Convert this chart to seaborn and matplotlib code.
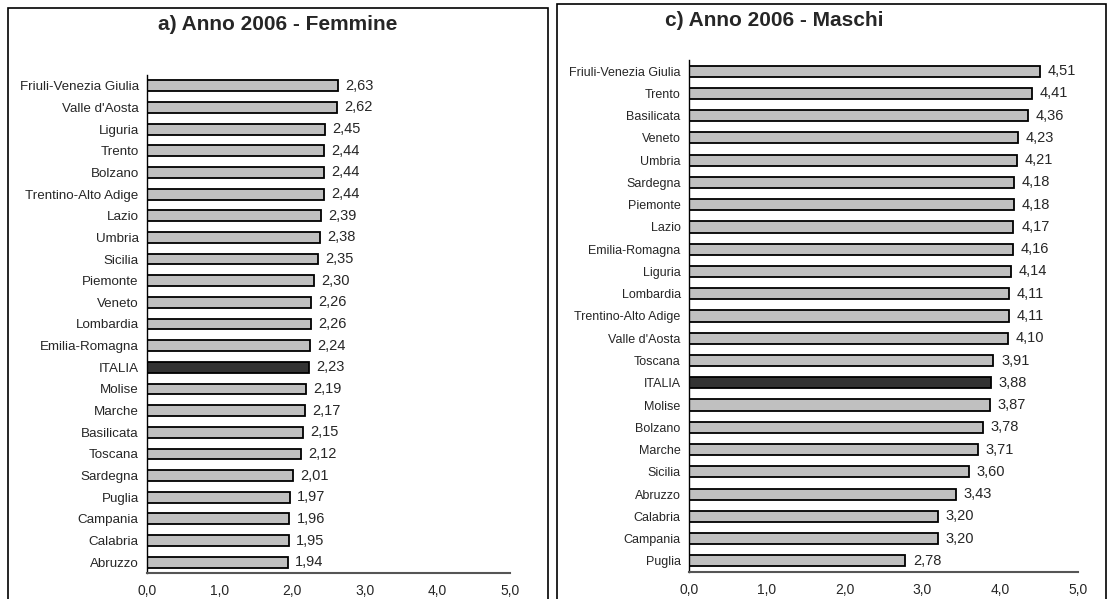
import matplotlib
matplotlib.use("Agg")
import matplotlib.pyplot as plt
import seaborn as sns
import numpy as np
from matplotlib.patches import Rectangle

sns.set_style("white")
plt.rcParams['font.family'] = ['Liberation Sans', 'DejaVu Sans']

fem_regions = ["Friuli-Venezia Giulia", "Valle d'Aosta", "Liguria", "Trento", "Bolzano",
               "Trentino-Alto Adige", "Lazio", "Umbria", "Sicilia", "Piemonte", "Veneto",
               "Lombardia", "Emilia-Romagna", "ITALIA", "Molise", "Marche", "Basilicata",
               "Toscana", "Sardegna", "Puglia", "Campania", "Calabria", "Abruzzo"]
fem_values = [2.63, 2.62, 2.45, 2.44, 2.44, 2.44, 2.39, 2.38, 2.35, 2.30, 2.26, 2.26, 2.24,
              2.23, 2.19, 2.17, 2.15, 2.12, 2.01, 1.97, 1.96, 1.95, 1.94]

mas_regions = ["Friuli-Venezia Giulia", "Trento", "Basilicata", "Veneto", "Umbria", "Sardegna",
               "Piemonte", "Lazio", "Emilia-Romagna", "Liguria", "Lombardia",
               "Trentino-Alto Adige", "Valle d'Aosta", "Toscana", "ITALIA", "Molise",
               "Bolzano", "Marche", "Sicilia", "Abruzzo", "Calabria", "Campania", "Puglia"]
mas_values = [4.51, 4.41, 4.36, 4.23, 4.21, 4.18, 4.18, 4.17, 4.16, 4.14, 4.11, 4.11, 4.10,
              3.91, 3.88, 3.87, 3.78, 3.71, 3.60, 3.43, 3.20, 3.20, 2.78]

titles = ["a) Anno 2006 - Femmine", "c) Anno 2006 - Maschi"]
xticks = [0, 1, 2, 3, 4, 5]
xticklabels = ["0,0", "1,0", "2,0", "3,0", "4,0", "5,0"]

W, H = 1114, 599
fig = plt.figure(figsize=(W / 100, H / 100), dpi=100)

def fx(px):
    return px / W

def fy(py):
    return 1 - py / H

panels = [
    dict(regions=fem_regions, values=fem_values, title=titles[0],
         ax=(147, 75, 510, 573), box=(8, 8, 548), title_xy=(278, 25), lab_fs=9.6),
    dict(regions=mas_regions, values=mas_values, title=titles[1],
         ax=(689, 60, 1078, 572), box=(557, 4, 1106), title_xy=(774, 20), lab_fs=9.0),
]

for p in panels:
    x0, y0, x1, y1 = p["ax"]
    ax = fig.add_axes([fx(x0), fy(y1), fx(x1) - fx(x0), (y1 - y0) / H])
    colors = ["#333333" if r == "ITALIA" else "#C0C0C0" for r in p["regions"]]
    sns.barplot(x=p["values"], y=p["regions"], hue=p["regions"], palette=colors,
                legend=False, orient="h", width=0.5, edgecolor="black", linewidth=1.3,
                saturation=1, ax=ax)
    ax.set_xlim(0, 5)
    ax.set_ylim(len(p["regions"]) - 0.5, -0.5)
    ax.set_xticks(xticks)
    ax.set_xticklabels(xticklabels, fontsize=10)
    ax.tick_params(axis="x", length=0, pad=8)
    ax.tick_params(axis="y", which="major", length=0, pad=6, labelsize=p["lab_fs"])
    ax.set_yticks(np.arange(-0.5, len(p["regions"]), 1), minor=True)
    ax.tick_params(axis="y", which="minor", length=4, width=1, color="black")
    ax.set_xlabel("")
    ax.set_ylabel("")
    for s in ["top", "right"]:
        ax.spines[s].set_visible(False)
    ax.spines["left"].set_color("black")
    ax.spines["bottom"].set_color("#555555")
    ax.spines["left"].set_linewidth(1)
    ax.spines["bottom"].set_linewidth(1.5)
    for i, v in enumerate(p["values"]):
        ax.text(v + 0.1, i, f"{v:.2f}".replace(".", ","), va="center", ha="left",
                fontsize=10.5)
    bx0, by0, bx1 = p["box"]
    fig.patches.append(Rectangle((fx(bx0), -0.05), fx(bx1) - fx(bx0), fy(by0) + 0.05,
                                 transform=fig.transFigure, fill=False,
                                 edgecolor="black", linewidth=1.2))
    tx, ty = p["title_xy"]
    fig.text(fx(tx), fy(ty), p["title"], ha="center", va="center", fontsize=15,
             fontweight="bold")

fig.savefig("out.png", dpi=100)
